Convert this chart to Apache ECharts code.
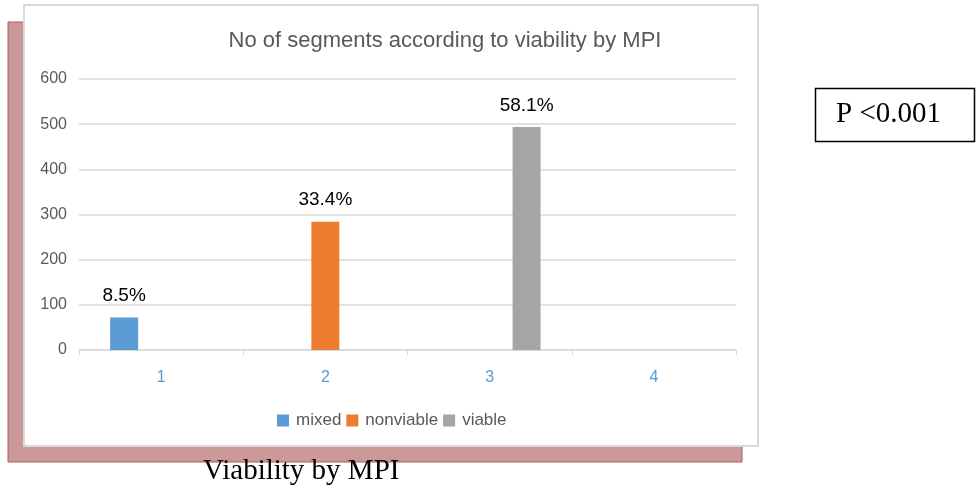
<!DOCTYPE html>
<html><head><meta charset="utf-8">
<script src="https://cdn.jsdelivr.net/npm/echarts@6/dist/echarts.min.js"></script>
<style>html,body{margin:0;padding:0;background:#fff}#c{width:978px;height:488px}</style>
</head><body><div id="c"></div>
<script>
const categories = ['1', '2', '3', '4'];
const mixedValues = [72, null, null, null];
const nonviableValues = [null, 284, null, null];
const viableValues = [null, null, 494, null];
const percentLabels = { mixed: '8.5%', nonviable: '33.4%', viable: '58.1%' };
const yTicks = { min: 0, max: 600, interval: 100 };

const chart = echarts.init(document.getElementById('c'), null, { renderer: 'canvas' });
function mk(name, data, color, label) {
  return {
    name, type: 'bar', data, barWidth: 28, barGap: '32%',
    itemStyle: { color },
    label: { show: true, position: 'top', distance: 12, formatter: () => label, color: '#000', fontSize: 19, fontFamily: 'Liberation Sans' }
  };
}
chart.setOption({
  animation: false,
  graphic: [
    { type: 'rect', z: -10, shape: { x: 8, y: 22, width: 734, height: 440 }, style: { fill: '#cc9999', stroke: '#a85a5a', lineWidth: 1 } },
    { type: 'rect', z: -9, shape: { x: 24, y: 5, width: 734, height: 441 }, style: { fill: '#fff', stroke: '#d9d9d9', lineWidth: 2 } },
    { type: 'text', left: 203, top: 457, style: { text: 'Viability by MPI', font: '29px "Liberation Serif"', fill: '#000' } },
    { type: 'rect', shape: { x: 815.5, y: 88.5, width: 159, height: 53 }, style: { fill: '#fff', stroke: '#000', lineWidth: 1.5 } },
    { type: 'text', left: 836, top: 100, style: { text: 'P <0.001', font: '29px "Liberation Serif"', fill: '#000' } }
  ],
  title: {
    text: 'No of segments according to viability by MPI', left: 440, textAlign: 'center', top: 25,
    textStyle: { color: '#595959', fontSize: 22, fontWeight: 'normal', fontFamily: 'Liberation Sans' }
  },
  legend: {
    top: 407, left: 272, itemWidth: 12, itemHeight: 12, itemGap: 5, icon: 'rect',
    textStyle: { color: '#595959', fontSize: 17, fontFamily: 'Liberation Sans', padding: [0, 0, 0, 2] },
    data: ['mixed', 'nonviable', 'viable']
  },
  grid: { left: 79, right: 242, top: 79, bottom: 138 },
  xAxis: {
    type: 'category', data: categories,
    axisLine: { lineStyle: { color: '#d9d9d9', width: 1.5 } },
    axisTick: { show: true, length: 5, lineStyle: { color: '#d9d9d9' } },
    axisLabel: { color: '#5b9bd5', fontSize: 16, margin: 20, fontFamily: 'Liberation Sans' }
  },
  yAxis: {
    type: 'value', min: yTicks.min, max: yTicks.max, interval: yTicks.interval,
    axisLine: { show: false }, axisTick: { show: false },
    splitLine: { lineStyle: { color: '#d9d9d9', width: 1.5 } },
    axisLabel: { color: '#595959', fontSize: 16, margin: 12, fontFamily: 'Liberation Sans' }
  },
  series: [
    mk('mixed', mixedValues, '#5b9bd5', percentLabels.mixed),
    mk('nonviable', nonviableValues, '#ed7d31', percentLabels.nonviable),
    mk('viable', viableValues, '#a5a5a5', percentLabels.viable)
  ]
});
</script></body></html>
